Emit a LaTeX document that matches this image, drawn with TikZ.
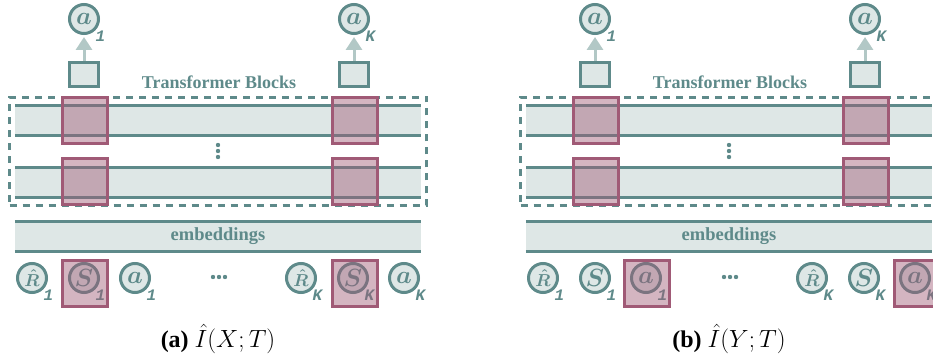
\documentclass[tikz,border=0pt]{standalone}
\usepackage{fontspec}
\setmainfont{Liberation Serif}
\newfontfamily\subfont{Liberation Mono}
\usetikzlibrary{arrows.meta, positioning}
\definecolor{tokteal}{RGB}{94,138,138}
\definecolor{tokfill}{RGB}{222,231,230}
\definecolor{arrowgray}{RGB}{178,200,198}
\definecolor{hlred}{RGB}{160,90,118}

\begin{document}
\begin{tikzpicture}[x=1pt, y=-1pt, >={Triangle[width=16pt, length=13pt]},
    tok/.style={circle, draw=tokteal, line width=3pt, fill=tokfill, minimum size=29pt, inner sep=0pt, text=tokteal, font=\fontsize{23}{23}\selectfont\boldmath},
    rtok/.style={tok, font=\fontsize{17}{17}\selectfont\boldmath},
    sub/.style={text=tokteal, inner sep=0pt, font=\fontsize{16}{16}\selectfont\subfont\bfseries\itshape},
    band/.style={fill=tokfill, minimum width=406pt, minimum height=30pt, inner sep=0pt, text=tokteal, font=\fontsize{18.5}{18.5}\selectfont\bfseries},
    bandline/.style={draw=tokteal, line width=3pt},
    frame/.style={draw=tokteal, line width=3pt, dash pattern=on 7pt off 6pt, minimum width=417pt, minimum height=108pt},
    outbox/.style={draw=tokteal, line width=3pt, fill=tokfill, minimum width=29pt, minimum height=24pt},
    hl/.style={draw=hlred, line width=3pt, fill=hlred, fill opacity=0.45, minimum width=45pt, minimum height=46pt},
    lbl/.style={text=tokteal, font=\fontsize{18}{18}\selectfont\bfseries}]
  \useasboundingbox (0,0) rectangle (933,355);
  \foreach \p/\dx/\hi/\v in {a/0/s/X, b/511/a/Y} {
  \begin{scope}[xshift=\dx pt, name prefix=\p-]
    % transformer blocks
    \node[band] (l1) at (218,120.5) {};
    \node[band] (l2) at (218,182.5) {};
    \draw[bandline] (l1.north west) -- (l1.north east) (l1.south west) -- (l1.south east);
    \draw[bandline] (l2.north west) -- (l2.north east) (l2.south west) -- (l2.south east);
    \foreach \yy in {145,151,157}
      \fill[tokteal] (218,\yy) circle (2.2pt);
    \node[frame] (blocks) at (218,151.5) {};
    \node[lbl] (title) at (219,82) {Transformer Blocks};
    % embeddings
    \node[band] (emb) at (218,236.5) {embeddings};
    \draw[bandline] (emb.north west) -- (emb.north east) (emb.south west) -- (emb.south east);
    % input tokens
    \node[rtok, label={[sub]-45:1}] (r1) at (32,278) {$\hat{R}$};
    \node[tok, label={[sub]-45:1}] (s1) at (84,278) {$S$};
    \node[tok, label={[sub]-45:1}] (a1) at (135,278) {$a$};
    \foreach \xx in {213,219,225}
      \fill[tokteal] (\xx,277) circle (2.2pt);
    \node[rtok, label={[sub]-45:K}] (rK) at (301,278) {$\hat{R}$};
    \node[tok, label={[sub]-45:K}] (sK) at (353,278) {$S$};
    \node[tok, label={[sub]-45:K}] (aK) at (404,278) {$a$};
    % outputs
    \node[outbox] (h1) at (84,74.5) {};
    \node[outbox] (hK) at (354,74.5) {};
    \node[tok, label={[sub]-45:1}] (o1) at (84,19) {$a$};
    \node[tok, label={[sub]-45:K}] (oK) at (354,19) {$a$};
    \draw[->, arrowgray, line width=3pt, shorten >=2pt] (h1) -- (o1);
    \draw[->, arrowgray, line width=3pt, shorten >=2pt] (hK) -- (oK);
    % highlighted positions
    \node[hl] (m1) at (84.5,120.5) {};
    \node[hl] (mK) at (355,120.5) {};
    \node[hl] (n1) at (84.5,181.5) {};
    \node[hl] (nK) at (355,181.5) {};
    \node[hl] (i1) at ([shift={(1,5.5)}]\hi1.center) {};
    \node[hl] (iK) at ([shift={(2,5.5)}]\hi K.center) {};
    % caption
    \node[font=\fontsize{24}{24}\selectfont] (cap) at (218,339) {\textbf{(\p)} $\hat{I}(\v;T)$};
  \end{scope}
  }
\end{tikzpicture}
\end{document}
